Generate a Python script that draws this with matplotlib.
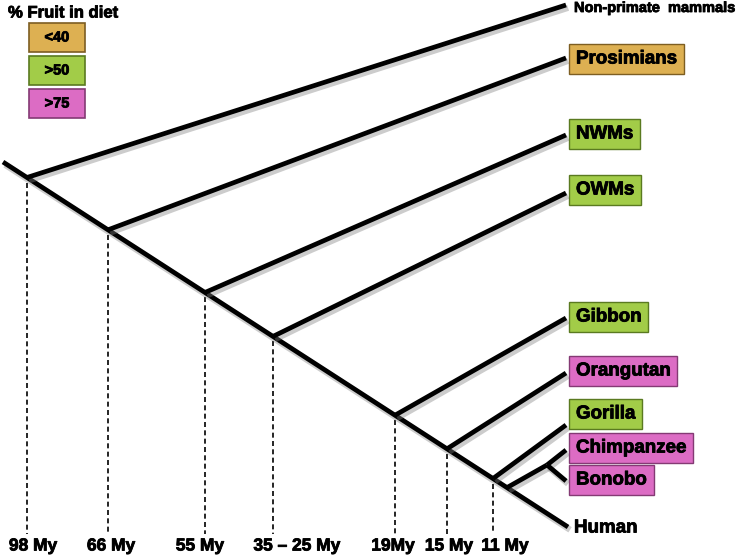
import matplotlib.pyplot as plt
import matplotlib.patheffects as pe
from matplotlib.patches import Rectangle

# tips of the tree, top to bottom
tips = ["Non-primate mammals", "Prosimians", "NWMs", "OWMs", "Gibbon",
        "Orangutan", "Gorilla", "Chimpanzee", "Bonobo", "Human"]
tip_y = [5, 58, 135, 193, 318, 373, 425, 450, 481, 527]
label_y = [8, 59, 134, 190, 317, 371, 414, 448, 480, 528]
diet = [None, "<40", ">50", ">50", ">50", ">75", ">50", ">75", ">75", None]

# divergence nodes along the human lineage
ages = ["98 My", "66 My", "55 My", "35 \u2013 25 My", "19My", "15 My", "11 My"]
node_x = [27, 108, 205, 273, 395, 447, 493]
age_label_x = [33, 111, 200, 297, 393, 449, 505]

# Pan split
pan_node_x = 507
pan_split = (547, 465)

legend_cats = ["<40", ">50", ">75"]
colors = {"<40": ("#ddb052", "#7d5e22"),
          ">50": ("#a2cc48", "#5a7a20"),
          ">75": ("#dc6cc4", "#843a74")}

# trunk line (screen-like coords, y down)
trunk_x0, trunk_y0, trunk_x1, trunk_y1 = 3, 162, 568, 527


def trunk_y(x):
    return trunk_y0 + (trunk_y1 - trunk_y0) * (x - trunk_x0) / (trunk_x1 - trunk_x0)


fig = plt.figure(figsize=(7.4, 5.59), dpi=100)
ax = fig.add_axes([0, 0, 1, 1])
ax.set_xlim(0, 740)
ax.set_ylim(559, 0)
ax.axis("off")

shadow = [pe.SimpleLineShadow(offset=(1.5, -2), shadow_color="gray", alpha=0.4, linewidth=4.5),
          pe.Normal()]
heavy = [pe.withStroke(linewidth=0.6, foreground="black")]
lw = 3.4
tip_x = 566


def branch(xs, ys):
    ax.plot(xs, ys, color="black", lw=lw, solid_capstyle="butt",
            path_effects=shadow, zorder=3)


# trunk
branch([trunk_x0, trunk_x1], [trunk_y0, trunk_y1])

# side branches
for x, y in zip(node_x, tip_y[:7]):
    branch([x, tip_x], [trunk_y(x), y])

# chimp / bonobo
branch([pan_node_x, pan_split[0]], [trunk_y(pan_node_x), pan_split[1]])
branch([pan_split[0], tip_x], [pan_split[1], tip_y[7]])
branch([pan_split[0], tip_x], [pan_split[1], tip_y[8]])

# dashed time lines and labels
for x, lab, lx in zip(node_x, ages, age_label_x):
    ax.plot([x, x], [trunk_y(x) + 5, 534], color="black", lw=1.2,
            linestyle=(0, (3, 2)), zorder=2)
    ax.text(lx, 546, lab, ha="center", va="center", fontsize=12.5,
            fontweight="bold", family="Liberation Sans", path_effects=heavy)

# tip labels
for name, y, d in zip(tips, label_y, diet):
    if d is None:
        fs = 10.5 if name.startswith("Non") else 13.5
        ax.text(574, y, name.replace(" ", "  "), ha="left", va="center",
                fontsize=fs, fontweight="bold", family="Liberation Sans",
                path_effects=heavy)
    else:
        fc, ec = colors[d]
        ax.text(576, y, name, ha="left", va="center", fontsize=13.5,
                fontweight="bold", family="Liberation Sans", zorder=5,
                path_effects=heavy,
                bbox=dict(boxstyle="square,pad=0.37", fc=fc, ec=ec, lw=1))

# legend
ax.text(8, 13, "% Fruit in diet", ha="left", va="center", fontsize=12,
        fontweight="bold", family="Liberation Sans", path_effects=heavy)
for i, cat in enumerate(legend_cats):
    fc, ec = colors[cat]
    y0 = 23 + i * 33
    ax.add_patch(Rectangle((29, y0), 56, 29, fc=fc, ec=ec, lw=1.2, zorder=4))
    ax.text(57, y0 + 14.5, cat, ha="center", va="center", fontsize=10.5,
            fontweight="bold", family="Liberation Sans", zorder=5,
            path_effects=heavy)

fig.savefig("out.png", dpi=100)
